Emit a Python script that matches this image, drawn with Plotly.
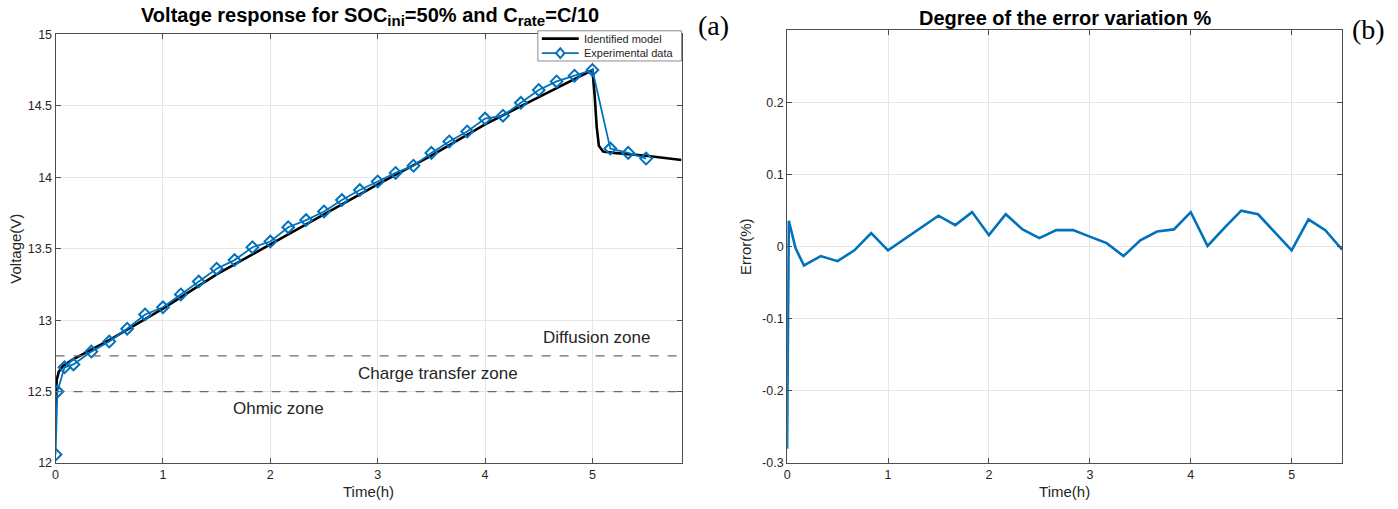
import plotly.graph_objects as go

# ---------------- data ----------------
exp_time = [0, 1/60, 1/12] + [k / 6 for k in range(1, 34)]
exp_voltage = [12.06, 12.50, 12.67, 12.69, 12.78, 12.85, 12.94, 13.04, 13.09,
               13.18, 13.27, 13.36, 13.42, 13.51, 13.55, 13.65, 13.70, 13.76,
               13.84, 13.91, 13.97, 14.03, 14.08, 14.17, 14.25, 14.32, 14.41,
               14.43, 14.52, 14.61, 14.67, 14.71, 14.75, 14.20, 14.17, 14.13]

model_time = [0, 0.003, 0.01, 0.03, 0.07, 0.15, 0.33, 0.5, 1.0, 1.5, 2.0, 2.5,
              3.0, 3.5, 4.0, 4.5, 5.0, 5.02, 5.04, 5.06, 5.1, 5.2, 5.5, 5.83]
model_voltage = [12.35, 12.50, 12.58, 12.64, 12.68, 12.72, 12.79, 12.86, 13.08,
                 13.32, 13.53, 13.74, 13.95, 14.15, 14.37, 14.56, 14.75, 14.58,
                 14.35, 14.22, 14.18, 14.17, 14.15, 14.12]

error_pct = [-0.280, 0.036, -0.002, -0.026, -0.013, -0.020, -0.005, 0.019,
             -0.005, 0.011, 0.027, 0.043, 0.030, 0.048, 0.016, 0.045, 0.024,
             0.012, 0.023, 0.023, 0.014, 0.005, -0.013, 0.009, 0.021, 0.024,
             0.048, 0.001, 0.026, 0.050, 0.045, 0.020, -0.005, 0.038, 0.023,
             -0.004]

zone_levels = [12.5, 12.75]
zone_labels = ["Ohmic zone", "Charge transfer zone", "Diffusion zone"]
zone_label_x = [2.08, 3.56, 5.04]
zone_label_y = [12.38, 12.63, 12.88]

legend_names = ["Identified model", "Experimental data"]

left_xticks = [0, 1, 2, 3, 4, 5]
left_yticks = [12, 12.5, 13, 13.5, 14, 14.5, 15]
right_yticks = [-0.3, -0.2, -0.1, 0, 0.1, 0.2]

BLUE = "#0072BD"
AXC = "#4d4d4d"
TXT = "#262626"
FONT = "Liberation Sans, Arial, sans-serif"
W, H = 1398, 509


def px(xp):
    return xp / W


def py(yp):
    return 1 - yp / H


fig = go.Figure()

fig.add_trace(go.Scatter(x=model_time, y=model_voltage, mode="lines",
                         line=dict(color="black", width=2.6),
                         name=legend_names[0], xaxis="x", yaxis="y", showlegend=False))
fig.add_trace(go.Scatter(x=exp_time, y=exp_voltage, mode="lines+markers",
                         line=dict(color=BLUE, width=1.8),
                         marker=dict(symbol="diamond-open", size=9, color=BLUE,
                                     line=dict(width=2, color=BLUE)),
                         name=legend_names[1], xaxis="x", yaxis="y", showlegend=False))
fig.add_trace(go.Scatter(x=exp_time, y=error_pct, mode="lines",
                         line=dict(color=BLUE, width=2.6),
                         showlegend=False, xaxis="x2", yaxis="y2"))

for lv in zone_levels:
    fig.add_shape(type="line", xref="x domain", yref="y", x0=0, x1=1, y0=lv, y1=lv,
                  line=dict(color="#6a6a6a", width=1.3, dash="dash"))

for lab, lx, ly in zip(zone_labels, zone_label_x, zone_label_y):
    fig.add_annotation(x=lx, y=ly, xref="x", yref="y", text=lab, showarrow=False,
                       xanchor="center", yanchor="middle",
                       font=dict(family=FONT, size=17, color=TXT))

# ---- legend box (drawn as a key over the plot, like the original) ----
lx0, lx1, ly0, ly1 = 536, 680, 24.5, 55.5
fig.add_shape(type="rect", xref="paper", yref="paper", layer="above",
              x0=px(lx0), x1=px(lx1), y0=py(ly1), y1=py(ly0),
              fillcolor="white", line=dict(color="#8c8c8c", width=1))
rows = [32.5, 47.5]
fig.add_shape(type="line", xref="paper", yref="paper", layer="above",
              x0=px(540), x1=px(577), y0=py(rows[0]), y1=py(rows[0]),
              line=dict(color="black", width=2.6))
fig.add_shape(type="line", xref="paper", yref="paper", layer="above",
              x0=px(540), x1=px(577), y0=py(rows[1]), y1=py(rows[1]),
              line=dict(color=BLUE, width=1.8))
cx, cy, dx, dy = 558.5, rows[1], 4.2, 5.0
fig.add_shape(type="path", xref="paper", yref="paper", layer="above",
              path=(f"M {px(cx - dx)} {py(cy)} L {px(cx)} {py(cy - dy)} "
                    f"L {px(cx + dx)} {py(cy)} L {px(cx)} {py(cy + dy)} Z"),
              fillcolor="white", line=dict(color=BLUE, width=2))
for name, ry in zip(legend_names, rows):
    fig.add_annotation(x=px(580), y=py(ry), xref="paper", yref="paper", text=name,
                       showarrow=False, xanchor="left", yanchor="middle",
                       font=dict(family=FONT, size=11, color=TXT))

axis_common = dict(showgrid=True, gridcolor="#e6e6e6", gridwidth=1,
                   showline=True, linecolor=AXC, linewidth=1, mirror="allticks",
                   ticks="inside", ticklen=5, tickcolor=AXC, zeroline=False,
                   tickfont=dict(family=FONT, size=12.5, color=TXT))

fig.update_layout(
    width=W, height=H,
    margin=dict(l=0, r=0, t=0, b=0),
    paper_bgcolor="white", plot_bgcolor="white",
    font=dict(family=FONT, color=TXT),
    showlegend=False,
    xaxis=dict(domain=[px(52.7), px(680)], range=[0, 5.83], tickvals=left_xticks,
               title=dict(text="Time(h)", font=dict(size=15), standoff=5),
               anchor="y", **axis_common),
    yaxis=dict(domain=[py(469), py(28)], range=[12, 15], tickvals=left_yticks,
               ticktext=["12", "12.5", "13", "13.5", "14", "14.5", "15"],
               title=dict(text="Voltage(V)", font=dict(size=15), standoff=2),
               anchor="x", **axis_common),
    xaxis2=dict(domain=[px(785.8), px(1342)], range=[0, 5.5], tickvals=left_xticks,
                title=dict(text="Time(h)", font=dict(size=15), standoff=5),
                anchor="y2", **axis_common),
    yaxis2=dict(domain=[py(469), py(24)], range=[-0.3, 0.3], tickvals=right_yticks,
                ticktext=["-0.3", "-0.2", "-0.1", "0", "0.1", "0.2"],
                title=dict(text="Error(%)", font=dict(size=15), standoff=6),
                anchor="x2", **axis_common),
)

sub = lambda s: '<sub><span style="font-size:15px">' + s + '</span></sub>'
fig.add_annotation(x=px(368), y=py(10), xref="paper", yref="paper",
                   xanchor="center", yanchor="middle",
                   text="<b>Voltage response for SOC" + sub("<b>ini</b>") + "=50% and C"
                        + sub("<b>rate</b>") + "=C/10</b>",
                   showarrow=False, font=dict(family=FONT, size=20, color="black"))
fig.add_annotation(x=px(1065), y=py(11), xref="paper", yref="paper",
                   xanchor="center", yanchor="middle",
                   text="<b>Degree of the error variation %</b>",
                   showarrow=False, font=dict(family=FONT, size=20, color="black"))
fig.add_annotation(x=px(712), y=py(19), xref="paper", yref="paper",
                   xanchor="center", yanchor="middle",
                   text="(a)", showarrow=False,
                   font=dict(family="Liberation Serif, Times New Roman, serif", size=28, color="black"))
fig.add_annotation(x=px(1368), y=py(23), xref="paper", yref="paper",
                   xanchor="center", yanchor="middle",
                   text="(b)", showarrow=False,
                   font=dict(family="Liberation Serif, Times New Roman, serif", size=28, color="black"))

fig.write_html("out.html", config={"displayModeBar": False},
               post_script="document.body.style.margin='0px';")
